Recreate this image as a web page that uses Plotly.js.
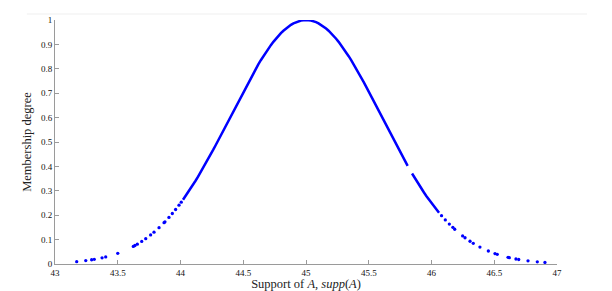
<!DOCTYPE html>
<html>
<head>
<meta charset="utf-8">
<script src="https://cdn.plot.ly/plotly-3.0.1.min.js"></script>
<style>html,body{margin:0;padding:0;background:#fff;}#chart{width:612px;height:291px;}</style>
</head>
<body>
<div id="chart"></div>
<script>
const tailX = [43.173, 43.245, 43.292, 43.313, 43.375, 43.404, 43.5, 43.624, 43.637, 43.656, 43.691, 43.723, 43.762, 43.789, 43.829, 43.869, 43.876, 43.908, 43.935, 43.961, 43.988, 44.006,
  46.08, 46.11, 46.142, 46.17, 46.185, 46.248, 46.267, 46.307, 46.333, 46.386, 46.453, 46.506, 46.524, 46.61, 46.62, 46.673, 46.695, 46.769, 46.843, 46.904];
const tailY = [0.0097, 0.0139, 0.0174, 0.0192, 0.0255, 0.0291, 0.0439, 0.0721, 0.0758, 0.0814, 0.0926, 0.1038, 0.119, 0.1304, 0.1489, 0.1692, 0.1729, 0.1909, 0.207, 0.2233, 0.2411, 0.2535,
  0.1979, 0.1806, 0.1635, 0.1505, 0.1425, 0.115, 0.1075, 0.0932, 0.0847, 0.0694, 0.0533, 0.0429, 0.0397, 0.0273, 0.0261, 0.0205, 0.0185, 0.013, 0.0089, 0.0065];

// Densely sampled points (central part, drawn as continuous run), null = gap
const coreX = [44.02, 44.04, 44.06, 44.08, 44.10, 44.12, 44.14, 44.16, 44.18, 44.20, 44.22, 44.24, 44.26, 44.28, 44.30, 44.32, 44.34, 44.36, 44.38, 44.40,
  44.42, 44.44, 44.46, 44.48, 44.50, 44.52, 44.54, 44.56, 44.58, 44.60, 44.62, 44.64, 44.66, 44.68, 44.70, 44.72, 44.74, 44.76, 44.78, 44.80,
  44.82, 44.84, 44.86, 44.88, 44.90, 44.92, 44.94, 44.96, 44.98, 45.00, 45.02, 45.04, 45.06, 45.08, 45.10, 45.12, 45.14, 45.16, 45.18, 45.20,
  45.22, 45.24, 45.26, 45.28, 45.30, 45.32, 45.34, 45.36, 45.38, 45.40, 45.42, 45.44, 45.46, 45.48, 45.50, 45.52, 45.54, 45.56, 45.58, 45.60,
  45.62, 45.64, 45.66, 45.68, 45.70, 45.72, 45.74, 45.76, 45.78, 45.81, null,
  45.845, 45.86, 45.88, 45.90, 45.92, 45.94, 45.96, 45.98, 46.00, 46.02, 46.04, 46.06];
const coreY = [0.2634, 0.2780, 0.2931, 0.3086, 0.3247, 0.3411, 0.3580, 0.3753, 0.3930, 0.4111, 0.4296, 0.4483, 0.4674, 0.4868, 0.5063, 0.5261, 0.5461, 0.5661, 0.5863, 0.6065,
  0.6268, 0.6469, 0.6670, 0.6869, 0.7066, 0.7261, 0.7454, 0.7642, 0.7827, 0.8007, 0.8183, 0.8353, 0.8517, 0.8674, 0.8825, 0.8968, 0.9104, 0.9231, 0.9350, 0.9460,
  0.9560, 0.9651, 0.9731, 0.9802, 0.9862, 0.9912, 0.9950, 0.9978, 0.9994, 1.0000, 0.9994, 0.9978, 0.9950, 0.9912, 0.9862, 0.9802, 0.9731, 0.9651, 0.9560, 0.9460,
  0.9350, 0.9231, 0.9104, 0.8968, 0.8825, 0.8674, 0.8517, 0.8353, 0.8183, 0.8007, 0.7827, 0.7642, 0.7454, 0.7261, 0.7066, 0.6869, 0.6670, 0.6469, 0.6268, 0.6065,
  0.5863, 0.5661, 0.5461, 0.5261, 0.5063, 0.4868, 0.4674, 0.4483, 0.4296, 0.4020, null,
  0.3710, 0.3580, 0.3411, 0.3247, 0.3086, 0.2931, 0.2780, 0.2634, 0.2494, 0.2357, 0.2226, 0.2100];

const xTicks = [43, 43.5, 44, 44.5, 45, 45.5, 46, 46.5, 47];
const xTickText = ['43', '43.5', '44', '44.5', '45', '45.5', '46', '46.5', '47'];
const yTicks = [0, 0.1, 0.2, 0.3, 0.4, 0.5, 0.6, 0.7, 0.8, 0.9, 1];
const yTickText = ['0', '0.1', '0.2', '0.3', '0.4', '0.5', '0.6', '0.7', '0.8', '0.9', '1'];

const blue = '#0000ff';
const serif = 'Liberation Serif';
const traces = [
  {x: coreX, y: coreY, type: 'scatter', mode: 'lines', connectgaps: false,
   line: {color: blue, width: 2.5}, hoverinfo: 'skip', showlegend: false},
  {x: tailX, y: tailY, type: 'scatter', mode: 'markers',
   marker: {color: blue, size: 3.3, line: {width: 0}}, hoverinfo: 'skip', showlegend: false}
];

const axisCommon = {
  showgrid: false, zeroline: false, showline: true, linecolor: '#9a9a9a', linewidth: 1,
  ticks: 'inside', ticklen: 4, tickcolor: '#9a9a9a', tickwidth: 1,
  tickfont: {family: serif, size: 9, color: '#111'},
  tickmode: 'array'
};

const layout = {
  width: 612, height: 291,
  margin: {l: 55, r: 55, t: 20, b: 27, pad: 0},
  paper_bgcolor: '#fff', plot_bgcolor: '#fff',
  font: {family: serif, color: '#111'},
  xaxis: Object.assign({}, axisCommon, {
    range: [43, 47], tickvals: xTicks, ticktext: xTickText,
    title: {text: 'Support of <i>A</i>, <i>supp</i>(<i>A</i>)', font: {family: serif, size: 12.5, color: '#222'}, standoff: 1}
  }),
  yaxis: Object.assign({}, axisCommon, {
    range: [0, 1], tickvals: yTicks, ticktext: yTickText,
    title: {text: 'Membership degree', font: {family: serif, size: 12.5, color: '#222'}, standoff: 6}
  }),
  shapes: [
    {type: 'line', xref: 'paper', yref: 'paper', x0: -0.056, x1: 1.06, y0: 1.0246, y1: 1.0246,
     line: {color: '#efefef', width: 1}}
  ]
};

Plotly.newPlot('chart', traces, layout, {staticPlot: true, displayModeBar: false});
</script>
</body>
</html>
